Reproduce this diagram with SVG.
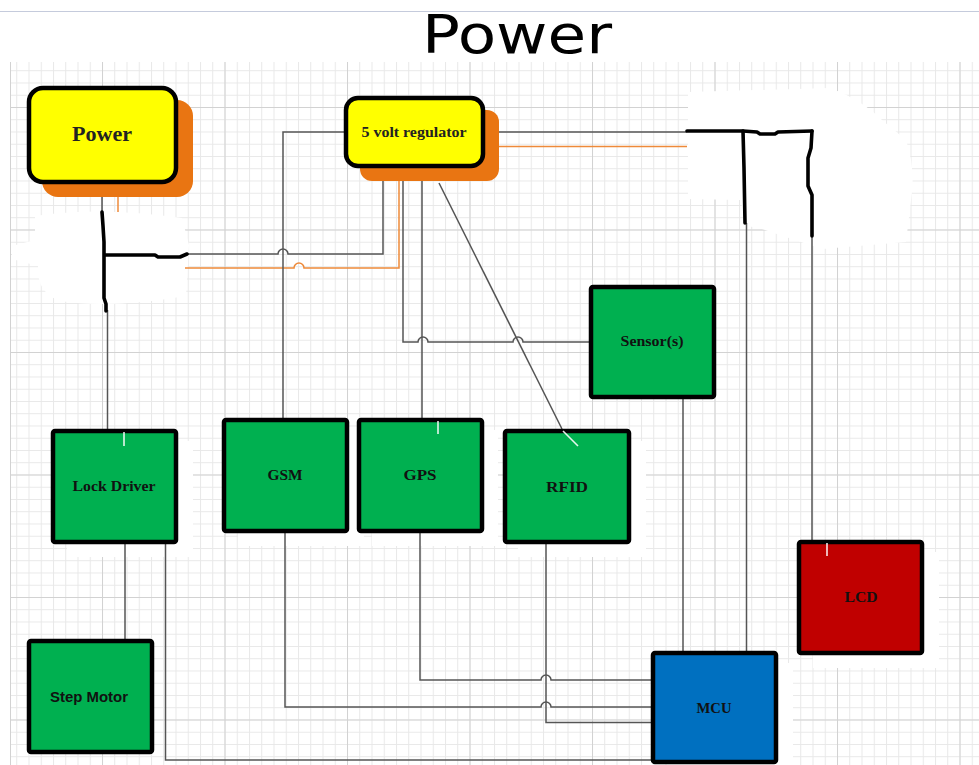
<svg xmlns="http://www.w3.org/2000/svg" width="979" height="765" viewBox="0 0 979 765">
<style>
.minor{stroke:#e8e8e8;stroke-width:1}
.major{stroke:#d2d2d2;stroke-width:1}
.wire{fill:none;stroke:#555;stroke-width:1.5}
.owire{fill:none;stroke:#ee8a3a;stroke-width:1.5}
.hand{fill:none;stroke:#000;stroke-width:3.6;stroke-linejoin:round;stroke-linecap:round}
.box{stroke:#000;stroke-width:4.5}
.green{fill:#00b050}
.shadow{fill:#fff}
.oshadow{fill:#e97512}
.lbl{font-family:"Liberation Serif","Times New Roman",serif;font-weight:bold;font-size:15px;fill:#111;text-anchor:middle}
.tick{stroke:#fff;stroke-width:1.6;opacity:0.9}
</style>
<defs>
<pattern id="gmin" x="4" y="9" width="12.25" height="12.25" patternUnits="userSpaceOnUse">
<path d="M0.5 0V12.25M0 0.5H12.25" class="minor"/>
</pattern>
<pattern id="gmaj" x="102" y="107" width="122.5" height="122.5" patternUnits="userSpaceOnUse">
<path d="M0.5 0V122.5M0 0.5H122.5" class="major"/>
</pattern>
</defs>
<rect width="979" height="765" fill="#fff"/>
<line x1="0" y1="11.5" x2="979" y2="11.5" stroke="#c5cbdc" stroke-width="1.2"/>
<text x="517" y="53" font-family="DejaVu Sans, sans-serif" font-size="54" text-anchor="middle" textLength="190" lengthAdjust="spacingAndGlyphs" fill="#000">Power</text>
<g id="grid">
<rect x="10" y="62" width="969" height="703" fill="url(#gmin)"/>
<rect x="10" y="62" width="969" height="703" fill="url(#gmaj)"/>
<line x1="10.5" y1="62" x2="10.5" y2="765" class="major"/>
</g>
<g id="erased">
<path d="M35 216 Q100 206 182 218 L189 245 L186 296 Q110 309 60 301 Q36 292 38 266 L12 259 L12 246 L35 240 Z" fill="#fff"/>
<path d="M688 92 L830 88 Q862 100 882 120 L906 140 Q916 170 911 200 L906 242 L822 249 L762 229 L748 226 L740 200 L688 199 Z" fill="#fff"/>
<rect x="67" y="441" width="126" height="116" class="shadow"/>
<rect x="238" y="430" width="126" height="116" class="shadow"/>
<rect x="372" y="430" width="126" height="116" class="shadow"/>
<rect x="518" y="441" width="128" height="116" class="shadow"/>
<rect x="813" y="552" width="126" height="116" class="shadow"/>
<rect x="667" y="663" width="126" height="102" class="shadow"/>
</g>
<g id="connectors">
<line x1="102" y1="183" x2="102" y2="213" class="wire"/>
<line x1="107.5" y1="310" x2="107.5" y2="429" class="wire"/>
<path d="M187 254 H278 A5 5 0 0 1 288 254 H383 V166" class="wire"/>
<path d="M185 268 H294 A5 5 0 0 1 304 268 H399 V181" class="owire"/>
<line x1="118" y1="197" x2="118" y2="212" class="owire"/>
<path d="M283 418 V132 H345" class="wire"/>
<path d="M483 132 H687" class="wire"/>
<path d="M499 146.5 H687" class="owire"/>
<path d="M403 166 V342 H418 A5 5 0 0 1 428 342 H513 A5 5 0 0 1 523 342 H590" class="wire"/>
<line x1="422" y1="181" x2="422" y2="418" class="wire"/>
<line x1="439" y1="183" x2="562" y2="429" class="wire"/>
<line x1="683" y1="398" x2="683" y2="651" class="wire"/>
<line x1="746.5" y1="223" x2="746.5" y2="651" class="wire"/>
<line x1="812" y1="236" x2="812" y2="540" class="wire"/>
<line x1="125" y1="543" x2="125" y2="639" class="wire"/>
<path d="M165.5 543 V760 H652" class="wire"/>
<path d="M285 532 V707 H541 A5 5 0 0 1 551 707 H652" class="wire"/>
<path d="M420 532 V680 H541 A5 5 0 0 1 551 680 H652" class="wire"/>
<path d="M546 543 V722.5 H652" class="wire"/>
<path d="M102 212 L103 226 L104 242 L104 280 L104 298 L106 304 L106 311" class="hand"/>
<path d="M105 255 L155 255 L158 257 L180 257 L187 254" class="hand"/>
<path d="M687 131 L743 131 L757 132 L760 134 L775 134 L778 132 L812 131" class="hand"/>
<path d="M743 131 L744 168 L745 223" class="hand"/>
<path d="M812 131 L811 148 L808 158 L808 186 L812 195 L812 236" class="hand"/>
</g>
<g id="power">
<rect x="42" y="100" width="151" height="97" rx="16" class="oshadow"/>
<rect x="29" y="88" width="147" height="94" rx="14" fill="#ffff00" class="box"/>
<text x="102" y="141" font-family="Liberation Serif, Times New Roman, serif" font-weight="bold" font-size="21" text-anchor="middle" fill="#222" textLength="60" lengthAdjust="spacingAndGlyphs">Power</text>
</g>
<g id="regulator">
<rect x="360" y="110" width="139" height="71" rx="12" class="oshadow"/>
<rect x="346" y="98" width="137" height="68" rx="12" fill="#ffff00" class="box"/>
<text x="414" y="137" font-family="Liberation Serif, Times New Roman, serif" font-weight="bold" font-size="14" text-anchor="middle" fill="#222" textLength="105" lengthAdjust="spacingAndGlyphs">5 volt regulator</text>
</g>
<g id="sensors">
<rect x="591" y="287" width="123" height="110" rx="2" class="box green"/>
<text x="652" y="346" class="lbl" textLength="63" lengthAdjust="spacingAndGlyphs">Sensor(s)</text>
</g>
<g id="lockdriver">
<rect x="53" y="431" width="123" height="111" rx="2" class="box green"/>
<text x="114" y="491" class="lbl" textLength="83" lengthAdjust="spacingAndGlyphs">Lock Driver</text>
</g>
<g id="gsm">
<rect x="224" y="420" width="123" height="111" rx="2" class="box green"/>
<text x="285" y="480" class="lbl" textLength="35" lengthAdjust="spacingAndGlyphs">GSM</text>
</g>
<g id="gps">
<rect x="359" y="420" width="123" height="111" rx="2" class="box green"/>
<text x="420" y="480" class="lbl" textLength="33" lengthAdjust="spacingAndGlyphs">GPS</text>
</g>
<g id="rfid">
<rect x="505" y="431" width="124" height="111" rx="2" class="box green"/>
<text x="567" y="492" class="lbl" textLength="42" lengthAdjust="spacingAndGlyphs">RFID</text>
</g>
<g id="stepmotor">
<rect x="29" y="641" width="123" height="111" rx="2" class="box green"/>
<text x="89" y="702" font-family="Liberation Sans, Arial, sans-serif" font-weight="bold" font-size="14.5" text-anchor="middle" fill="#111" textLength="78" lengthAdjust="spacingAndGlyphs">Step Motor</text>
</g>
<g id="mcu">
<rect x="653" y="653" width="123" height="109" rx="2" fill="#0070c0" class="box"/>
<text x="714" y="713" class="lbl" textLength="35" lengthAdjust="spacingAndGlyphs">MCU</text>
</g>
<g id="lcd">
<rect x="799" y="542" width="123" height="111" rx="2" fill="#c00000" class="box"/>
<text x="861" y="602" class="lbl" textLength="33" lengthAdjust="spacingAndGlyphs">LCD</text>
</g>
<g id="ticks">
<line x1="124" y1="432" x2="124" y2="446" class="tick"/>
<line x1="438" y1="421" x2="438" y2="434" class="tick"/>
<line x1="563" y1="431" x2="578" y2="446" class="tick"/>
<line x1="827" y1="543" x2="827" y2="556" class="tick"/>
</g>
</svg>
